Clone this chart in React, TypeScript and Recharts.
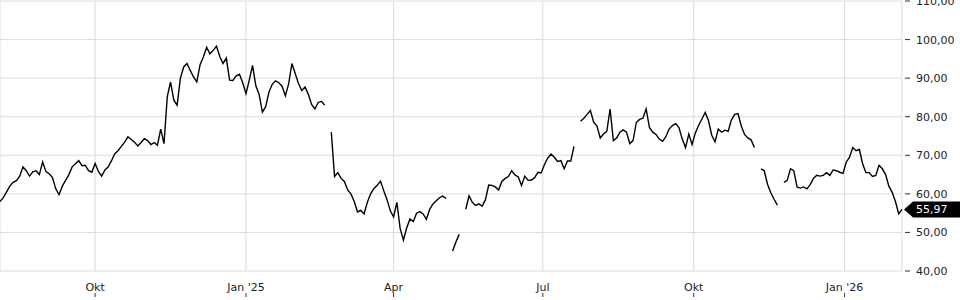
import { LineChart, Line, XAxis, YAxis, CartesianGrid, ReferenceLine } from 'recharts';

// day offsets from 2024-08-04, one reading every 2 days
const monthDays = [58, 150, 240, 331, 423, 515];
const monthLabels = ['Okt', "Jan '25", 'Apr', 'Jul', 'Okt', "Jan '26"];
const priceTicks = [40, 50, 60, 70, 80, 90, 100, 110];

const prices: (number | null)[] = [
  58, 59, 60.5, 62, 63, 63.4, 64.6, 67, 66, 64.6,
  65.7, 66, 65, 68.3, 65.8, 65.2, 64.2, 61.3, 59.8, 62,
  63.5, 65, 67, 67.8, 68.6, 67.3, 67.4, 66, 65.6, 67.9,
  65.8, 64.6, 66.2, 67, 68.6, 70.4, 71.2, 72.3, 73.4, 74.8,
  74.1, 73.4, 72.4, 73.3, 74.3, 73.8, 72.8, 73.3, 72.6, 76.8,
  73, 85.2, 89, 84.3, 83, 90, 92.9, 93.8, 92, 90.3,
  89, 93.5, 95.5, 98, 96.3, 97.2, 98.3, 95.6, 93.8, 95.2,
  89.5, 89.4, 90.6, 91, 88.8, 86, 89.5, 93.3, 88, 85.8,
  81.2, 82.6, 86.4, 88.4, 89.3, 88.8, 87.9, 85.4, 88.5, 93.8,
  91.2, 88.6, 86.8, 87.7, 85.8, 83.2, 82, 83.7, 84, 83,
  null, 76, 64.5, 65.5, 64, 63.2, 61, 60, 58, 55.3,
  55.7, 54.8, 57.8, 60, 61.4, 62.2, 63.3, 60.8, 58.5, 55.6,
  54, 57.8, 51, 48, 51.2, 53.5, 52.8, 55, 55.4, 54.8,
  53.4, 56, 57.4, 58.2, 59, 59.4, 58.8, null, 45.2, 47.5,
  49.5, null, 56, 59.5, 57.8, 57, 57.4, 56.8, 58.5, 62.3,
  62.2, 61.8, 61, 63.2, 64, 64.5, 66, 64.9, 64.4, 62.2,
  64.6, 63.5, 63.6, 64.2, 65.6, 65.4, 67.6, 69.3, 70.3, 69.5,
  68.4, 68.6, 66.5, 68.5, 68.5, 72.3, null, 78.8, 79.6, 80.6,
  81.6, 78.6, 77.6, 74.5, 75.5, 76.2, 82, 73.8, 74.5, 76,
  76.6, 76, 73, 73.8, 78.5, 79.3, 79.6, 82, 77.2, 76,
  75.4, 74.2, 73.6, 74.8, 76.8, 77.7, 78.2, 77.2, 74.2, 72,
  75.5, 72.8, 75.8, 77.8, 79.4, 81.1, 79, 75.2, 73.5, 76.8,
  76, 76.5, 76.2, 79.2, 80.6, 80.8, 77.6, 75.4, 74.5, 74,
  72, null, 66.5, 66, 62.5, 60.3, 58.6, 57.1, null, 63,
  63.5, 66.5, 66, 61.8, 61.5, 61.8, 61.3, 62.4, 64, 64.8,
  64.6, 64.8, 65.5, 64.8, 66.2, 66, 65.6, 65.3, 68.2, 69.5,
  72, 71.2, 71.5, 67.8, 65.5, 65.5, 64.5, 64.8, 67.4, 66.5,
  65, 62, 60.4, 58, 54.8, 55.97,
];

const lastPrice = 55.97;
const data = prices.map((p, i) => ({ t: i * 2, p }));

const fmt = (v: number) => v.toFixed(2).replace('.', ',');
const font = 'DejaVu Sans, sans-serif';

const XTick = ({ x, y, payload }: any) => {
  const idx = monthDays.indexOf(payload.value);
  return (
    <g>
      <text x={x} y={y + 20} textAnchor="middle" fontSize={11} fill="#222" fontFamily={font}>
        {monthLabels[idx]}
      </text>
      <line x1={x} x2={x} y1={y + 22} y2={y + 26} stroke="#333" />
    </g>
  );
};

const YTick = ({ x, y, payload }: any) => (
  <g>
    <line x1={x + 3} x2={x + 8} y1={y} y2={y} stroke="#333" />
    <text x={x + 14} y={y + 4} fontSize={11} fill="#222" fontFamily={font}>
      {fmt(payload.value)}
    </text>
  </g>
);

const PriceTag = ({ viewBox }: any) => {
  const x = viewBox.x + viewBox.width;
  const y = viewBox.y;
  return (
    <g>
      <polygon
        points={`${x + 2},${y} ${x + 11},${y - 8} ${960},${y - 8} ${960},${y + 8} ${x + 11},${y + 8}`}
        fill="#000"
      />
      <text x={x + 14} y={y + 4} fontSize={11} fill="#fff" fontFamily={font}>
        {fmt(lastPrice)}
      </text>
    </g>
  );
};

const App = () => {
  return (
    <div style={{ position: 'absolute', left: 0, top: 0, width: 960, height: 300, background: '#fff' }}>
      <LineChart width={960} height={300} data={data} margin={{ top: 1, right: 0, left: 0, bottom: 0 }}>
        <CartesianGrid stroke="#dcdcdc" />
        <XAxis
          dataKey="t"
          type="number"
          domain={[0, 550]}
          ticks={monthDays}
          tick={<XTick />}
          tickSize={0}
          tickMargin={0}
          axisLine={false}
          tickLine={false}
          height={29}
          interval={0}
        />
        <YAxis
          orientation="right"
          domain={[40, 110]}
          ticks={priceTicks}
          tick={<YTick />}
          tickSize={0}
          tickMargin={0}
          axisLine={false}
          tickLine={false}
          width={58}
          interval={0}
        />
        <ReferenceLine y={lastPrice} stroke="none" label={<PriceTag />} />
        <Line
          type="linear"
          dataKey="p"
          stroke="#000"
          strokeWidth={1.4}
          dot={false}
          connectNulls={false}
          isAnimationActive={false}
        />
      </LineChart>
    </div>
  );
};

export default App;
